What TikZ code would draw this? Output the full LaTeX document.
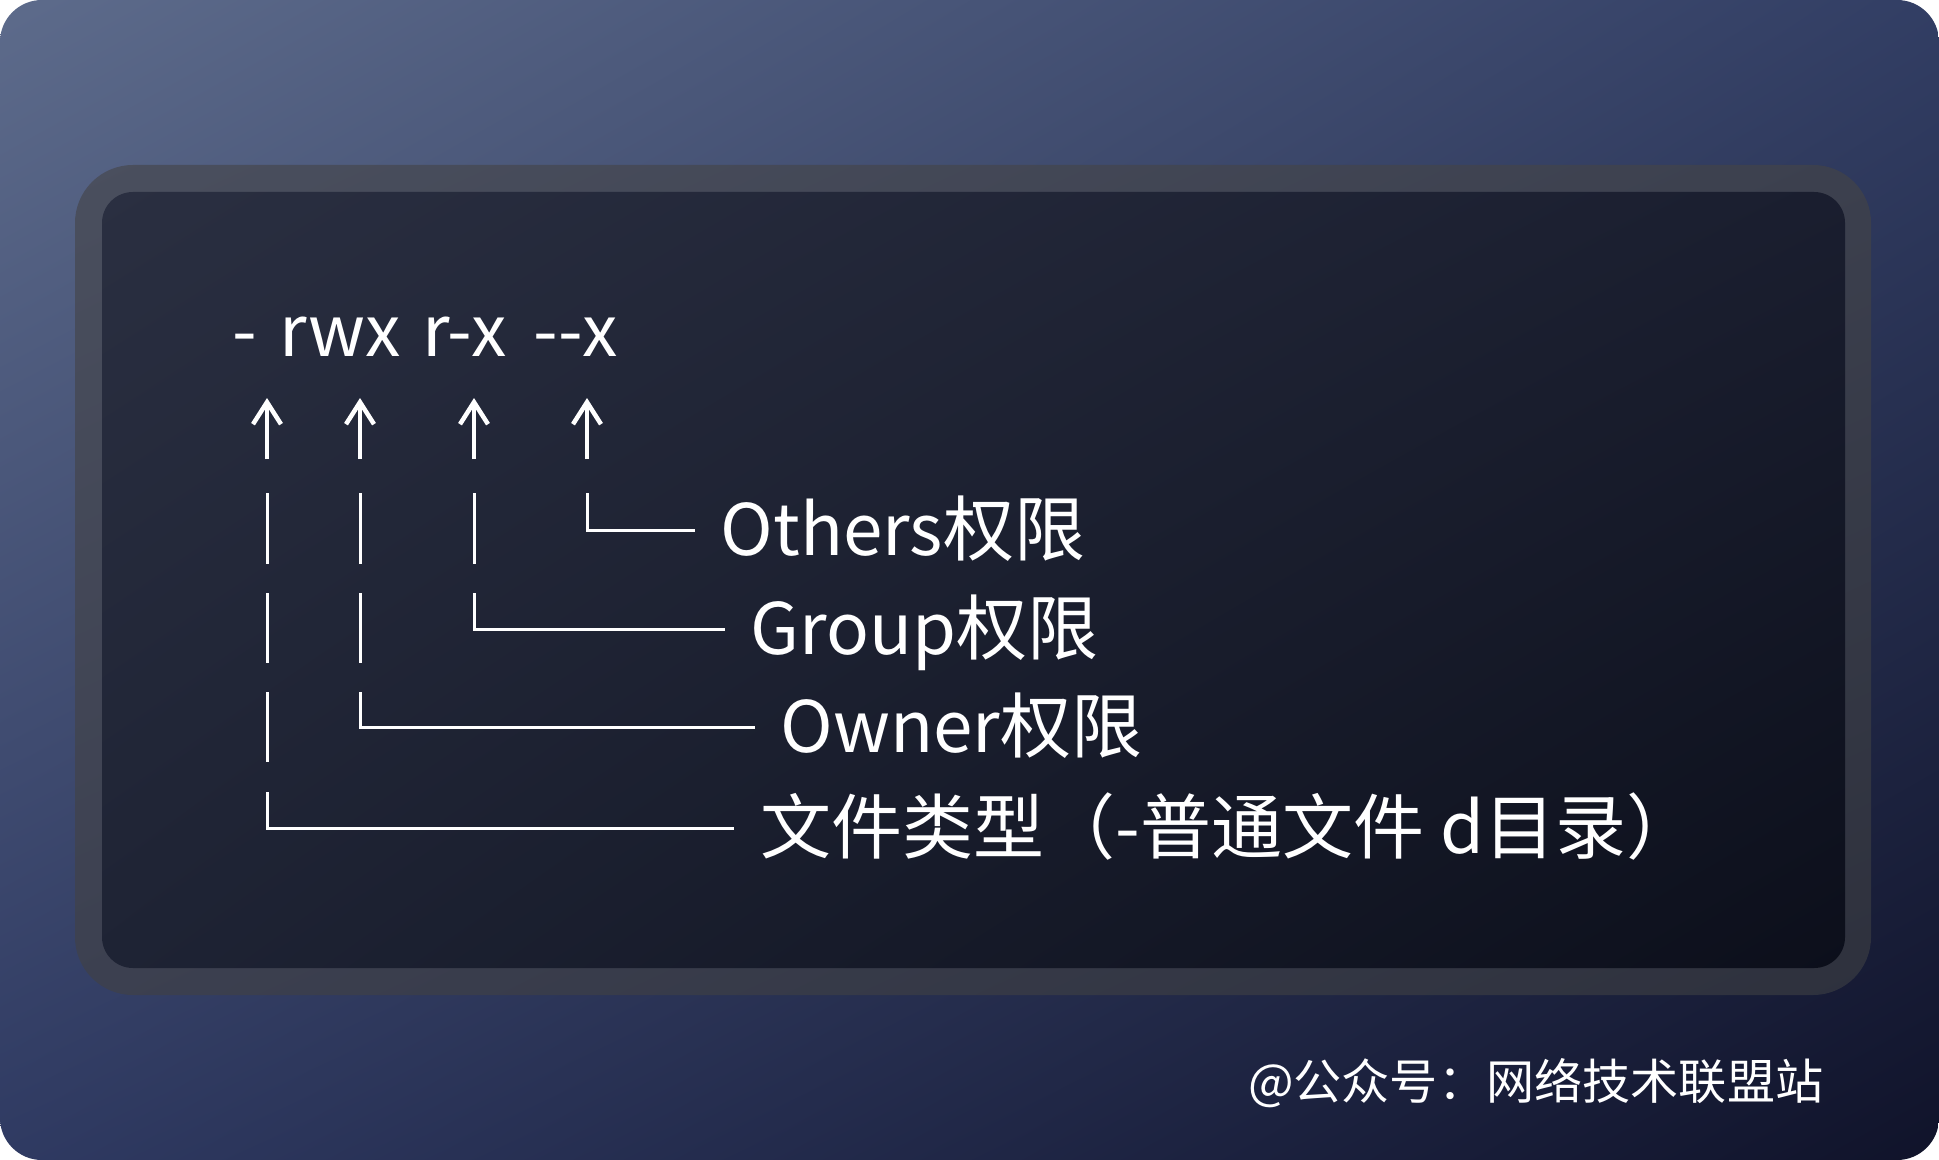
\documentclass[tikz,border=0pt]{standalone}
\usepackage{fontspec}
\usetikzlibrary{arrows.meta,positioning,shadings}
\newfontfamily\cjk{Noto Sans CJK SC}

% фон и панель
\definecolor{bgTL}{HTML}{5D6B8B}
\definecolor{bgTR}{HTML}{323E64}
\definecolor{bgBL}{HTML}{2F3A62}
\definecolor{bgBR}{HTML}{10132A}
\definecolor{frmTL}{HTML}{4A4F5E}
\definecolor{frmTR}{HTML}{3C404E}
\definecolor{frmBL}{HTML}{3C4050}
\definecolor{frmBR}{HTML}{2E313D}
\definecolor{panTL}{HTML}{2A2F41}
\definecolor{panTR}{HTML}{1A1E2F}
\definecolor{panBL}{HTML}{1E2334}
\definecolor{panBR}{HTML}{0C0F1B}

\begin{document}
\begin{tikzpicture}[
    x=0.1mm, y=-0.1mm,
    bar/.style={white, line width=0.3mm},
    uparrow/.style={white, line width=0.45mm, -{Straight Barb[length=2.2mm,width=2.8mm]}},
    perm/.style={anchor=base west, inner sep=0pt, text=white, font=\cjk\fontsize{20.2}{24}\selectfont},
    desc/.style={inner sep=0pt, text=white, font=\cjk\fontsize{20.2}{24}\selectfont, text height=6mm, text depth=0.85mm},
    credit/.style={anchor=base east, inner sep=0pt, text=white, font=\cjk\fontsize{13.7}{16}\selectfont}
]
\useasboundingbox (0,0) rectangle (1939,1160);

% -------------------------------------------------
% Фон
% -------------------------------------------------
\fill[white] (0,0) rectangle (1939,1160);
\shade[rounded corners=4.2mm, upper left=bgTL, upper right=bgTR,
       lower left=bgBL, lower right=bgBR] (0,0) rectangle (1939,1160);

% Рамка и тёмная панель
\shade[rounded corners=5.8mm, upper left=frmTL, upper right=frmTR,
       lower left=frmBL, lower right=frmBR] (75,165) rectangle (1871,995);
\shade[rounded corners=3.1mm, upper left=panTL, upper right=panTR,
       lower left=panBL, lower right=panBR] (102,192) rectangle (1845,968);

% -------------------------------------------------
% Строка прав
% -------------------------------------------------
\node[perm] (mode) at (232,357)
    {-\hspace{2.25mm}rwx\hspace{2.1mm}r-x\hspace{2.7mm}-{}-x};

% -------------------------------------------------
% Стрелки под символами
% -------------------------------------------------
\coordinate (a1) at (267,459);  \coordinate (h1) at (267,398); % тип
\coordinate (a2) at (360,459);  \coordinate (h2) at (360,398); % owner
\coordinate (a3) at (474,459);  \coordinate (h3) at (474,398); % group
\coordinate (a4) at (587,459);  \coordinate (h4) at (587,398); % others

\draw[uparrow] (a1) -- (h1);
\draw[uparrow] (a2) -- (h2);
\draw[uparrow] (a3) -- (h3);
\draw[uparrow] (a4) -- (h4);

% -------------------------------------------------
% Вертикальные отрезки
% -------------------------------------------------
\draw[bar] (267,493) -- (267,564);
\draw[bar] (360,493) -- (360,564);
\draw[bar] (474,493) -- (474,564);
\draw[bar] (267,593) -- (267,663);
\draw[bar] (360,593) -- (360,663);
\draw[bar] (267,692) -- (267,762);

% -------------------------------------------------
% Уголки и подписи
% -------------------------------------------------
\coordinate (othTop) at (587,493);  \coordinate (oth) at (695,530);
\coordinate (grpTop) at (474,593);  \coordinate (grp) at (725,629);
\coordinate (ownTop) at (360,692);  \coordinate (own) at (755,727);
\coordinate (typTop) at (267,792);  \coordinate (typ) at (734,828);

\node[desc, right=2.5mm of oth] (others) {Others权限};
\node[desc, right=2.5mm of grp] (group) {Group权限};
\node[desc, right=2.5mm of own] (owner) {Owner权限};
\node[desc, right=2.6mm of typ] (ftype) {文件类型（-普通文件 d目录）};

\draw[bar] (othTop) |- (oth);
\draw[bar] (grpTop) |- (grp);
\draw[bar] (ownTop) |- (own);
\draw[bar] (typTop) |- (typ);

% Подпись внизу
\node[credit] (wm) at (1824,1099) {@公众号：网络技术联盟站};

\end{tikzpicture}
\end{document}
